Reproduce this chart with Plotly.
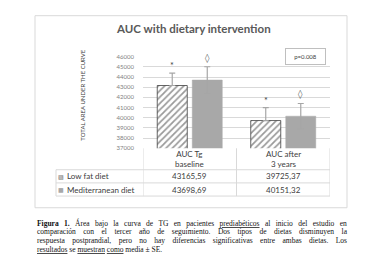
import plotly.graph_objects as go

# ---------------- data ----------------
categories = ["AUC Tg<br>baseline", "AUC after<br>3 years"]
series_names = ["Low fat diet", "Mediterranean diet"]
low_fat = [43165.59, 39725.37]
mediterranean = [43698.69, 40151.32]
low_fat_se = [1210, 1270]
med_se = [1310, 1250]
sig_low = ["*", "*"]
sig_med = ["◊", "◊"]
y_ticks = [37000, 38000, 39000, 40000, 41000, 42000, 43000, 44000, 45000, 46000]
p_text = "p=0.008"
chart_title = "AUC with dietary intervention"
y_title = "TOTAL AREA UNDER THE CURVE"
caption_bold = "Figura 1."
caption_lines = [
    "Figura 1. Área bajo la curva de TG en pacientes prediabéticos al inicio del estudio en",
    "comparación con el tercer año de seguimiento. Dos tipos de dietas disminuyen la",
    "respuesta postprandial, pero no hay diferencias significativas entre ambas dietas. Los",
    "resultados se muestran como media ± SE.",
]
spell_marked = ["prediabéticos", "resultados", "muestran", "como"]

W, H = 391, 279


def px(x):
    return x / W


def py(y):
    return 1 - y / H


def fmt(v):
    return f"{v:.2f}".replace(".", ",")


# Times-compatible glyph widths (1/1000 em) used to justify the caption lines
TW = {' ': 250, ',': 250, '.': 250, '±': 564, '1': 500, 'A': 722, 'D': 722, 'E': 611, 'F': 556,
      'G': 722, 'L': 611, 'S': 556, 'T': 611, 'Á': 722, 'a': 444, 'b': 500, 'c': 444, 'd': 500,
      'e': 444, 'f': 333, 'g': 500, 'h': 500, 'i': 278, 'j': 278, 'l': 278, 'm': 778, 'n': 500,
      'o': 500, 'p': 500, 'r': 333, 's': 389, 't': 278, 'u': 500, 'v': 500, 'y': 500, 'á': 444,
      'é': 444, 'ó': 500, 'ñ': 500}
TWB = {'F': 611, 'i': 278, 'g': 500, 'u': 556, 'r': 444, 'a': 500, '1': 500, '.': 250, ' ': 250}


def text_w(s, size):
    tot = 0
    rest = s
    if s.startswith(caption_bold):
        tot += sum(TWB.get(c, 500) for c in caption_bold)
        rest = s[len(caption_bold):]
    tot += sum(TW.get(c, 500) for c in rest)
    return tot * size / 1000


def markup(s):
    for w in spell_marked:
        s = s.replace(w, f'<span style="text-decoration:underline wavy #d03030">{w}</span>')
    if s.startswith(caption_bold):
        s = "<b>" + caption_bold + "</b>" + s[len(caption_bold):]
    return s


xs = list(range(len(categories)))
BARGAP = 0.251
off = (1 - BARGAP) / 4

fig = go.Figure()
fig.add_trace(go.Bar(
    x=xs, y=low_fat, name=series_names[0],
    marker=dict(color="white", line=dict(color="#404040", width=0.8),
                pattern=dict(shape="/", fgcolor="#333333", bgcolor="white", size=4.5, solidity=0.38)),
    error_y=dict(type="data", array=low_fat_se, arrayminus=[0] * len(low_fat_se), symmetric=False,
                 color="#a6a6a6", thickness=1.2, width=3),
))
fig.add_trace(go.Bar(
    x=xs, y=mediterranean, name=series_names[1],
    marker=dict(color="#a8a8a8", line=dict(color="#a8a8a8", width=0.5)),
    error_y=dict(type="data", array=med_se, color="#a6a6a6", thickness=1.2, width=3),
))

grid = "#d9d9d9"
fig.update_layout(
    width=W, height=H, margin=dict(l=0, r=0, t=0, b=0),
    paper_bgcolor="white", plot_bgcolor="white",
    barmode="group", bargap=BARGAP, bargroupgap=0.143, showlegend=False,
    font=dict(family="Lato", color="#595959"),
    xaxis=dict(domain=[px(143), px(330)], range=[-0.5, len(categories) - 0.5], visible=False),
    yaxis=dict(domain=[py(148), py(54)], range=[y_ticks[0], y_ticks[-1]], tickvals=y_ticks,
               tickformat="d", showgrid=True, gridcolor=grid, gridwidth=0.8, zeroline=False,
               showline=False, ticks="", ticklabelstandoff=8,
               tickfont=dict(size=6, color="#7f7f7f", family="Lato")),
)

ann = []
shapes = []


def note(text, x, y, xref="paper", yref="paper", xanchor="center", yanchor="middle", **kw):
    d = dict(text=text, x=x, y=y, xref=xref, yref=yref, xanchor=xanchor, yanchor=yanchor, showarrow=False)
    d.update(kw)
    ann.append(d)


# frame
shapes.append(dict(type="rect", xref="paper", yref="paper", x0=px(35), x1=px(347), y0=py(209), y1=py(12),
                   line=dict(color=grid, width=1)))

note(chart_title, px(193), py(25), font=dict(size=11.5, color="#595959", family="Lato", weight="bold"))
note(y_title, px(83), py(94), textangle=-90, font=dict(size=6, color="#404040", family="Lato"))
note(p_text, px(305.5), py(53.5), bordercolor="#bfbfbf", borderwidth=1, borderpad=0, width=39, height=15,
     font=dict(size=6, color="#404040", family="Lato"))

# significance markers
for i in xs:
    note(sig_low[i], i - off, low_fat[i] + low_fat_se[i], xref="x", yref="y", yanchor="bottom", yshift=0,
         font=dict(size=9, color="#404040"))
    note(sig_med[i], i + off, mediterranean[i] + med_se[i], xref="x", yref="y", yanchor="bottom", yshift=1,
         font=dict(size=9, color="#595959", family="DejaVu Sans"))

# data table
tcol = "#404040"
for yl in [170, 183.5, 197]:
    shapes.append(dict(type="line", xref="x", yref="paper", x0=-0.5, x1=len(categories) - 0.5,
                       y0=py(yl), y1=py(yl), line=dict(color=grid, width=1)))
    shapes.append(dict(type="line", xref="paper", yref="paper", x0=px(56), x1=px(143),
                       y0=py(yl), y1=py(yl), line=dict(color=grid, width=1)))
for k in range(len(categories) + 1):
    shapes.append(dict(type="line", xref="x", yref="paper", x0=k - 0.5, x1=k - 0.5,
                       y0=py(148), y1=py(197), line=dict(color=grid, width=1)))
shapes.append(dict(type="line", xref="paper", yref="paper", x0=px(56), x1=px(56),
                   y0=py(170), y1=py(197), line=dict(color=grid, width=1)))

row_y = [176.8, 190.3]
for i in xs:
    note(categories[i], i, py(159.5), xref="x", font=dict(size=8, color=tcol, family="Lato"))
    note(fmt(low_fat[i]), i, py(row_y[0]), xref="x", font=dict(size=8, color=tcol, family="Lato"))
    note(fmt(mediterranean[i]), i, py(row_y[1]), xref="x", font=dict(size=8, color=tcol, family="Lato"))

swatches = [("▨", "#595959"), ("■", "#a8a8a8")]
for r, name in enumerate(series_names):
    note(swatches[r][0], px(61.5), py(row_y[r]), font=dict(size=6, color=swatches[r][1], family="DejaVu Sans"))
    note(name, px(65), py(row_y[r]), xanchor="left", font=dict(size=8, color=tcol, family="Lato"))

# caption (justified lines except the last)
CAP_SIZE = 7.5
left, right = 35, 345
for n, (line, yy) in enumerate(zip(caption_lines, [224.3, 233.7, 243, 252.3])):
    txt = markup(line)
    if n < len(caption_lines) - 1:
        gaps = line.count(" ")
        ws = (right - left - text_w(line, CAP_SIZE)) / gaps
        txt = f'<span style="word-spacing:{ws:.2f}px">{txt}</span>'
    note(txt, px(left), py(yy), xanchor="left",
         font=dict(size=CAP_SIZE, color="#111111", family="Liberation Serif"))

fig.update_layout(annotations=ann, shapes=shapes)
fig.write_html("out.html", config={"displayModeBar": False},
               post_script="document.body.style.margin='0';document.body.style.overflow='hidden';")
